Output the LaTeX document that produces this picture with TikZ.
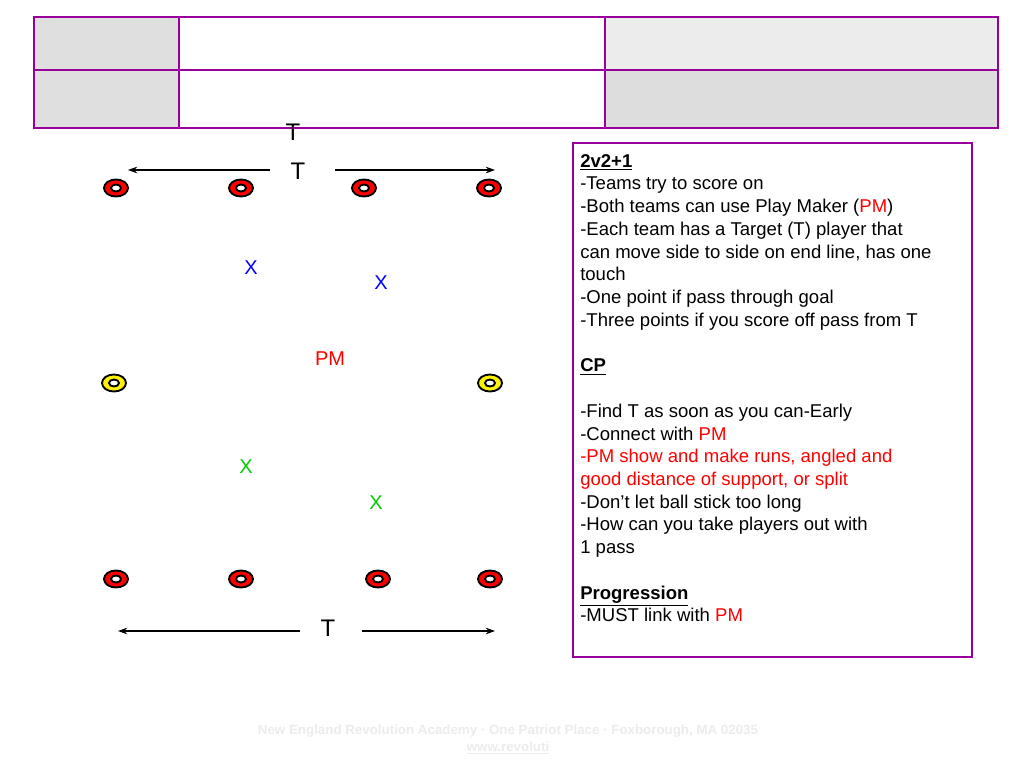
\documentclass[tikz,border=0pt]{standalone}
\usepackage{fontspec}
\setmainfont{Liberation Sans}
\usetikzlibrary{arrows.meta}
\begin{document}
\begin{tikzpicture}[x=0.75pt,y=-0.75pt,
  frame/.style={draw=violet!80!magenta,line width=1.2pt},
  cone/.style={line width=1.4pt,draw=black,fill=#1,even odd rule},
  lbl/.style={inner sep=0pt,font=\fontsize{15}{18}\selectfont},
  arr/.style={-{Stealth[length=7pt,width=5pt]},line width=0.8pt}]
\useasboundingbox (0,0) rectangle (1024,768);
\fill[white] (0,0) rectangle (1024,768);
% table
\fill[gray!25] (34,17) rectangle (179,128);
\fill[gray!15] (605,17) rectangle (998,70);
\fill[gray!27] (605,70) rectangle (998,128);
\draw[frame] (34,17) rectangle (998,128);
\draw[frame] (179,17) -- (179,128) (605,17) -- (605,128) (34,70) -- (998,70);
% text box
\draw[frame] (573,143) rectangle (972,657);
\node[anchor=north west,inner sep=0pt,align=left,font=\fontsize{13.9}{17.05}\selectfont] (txt) at (580,154) {%
\underline{\textbf{2v2+1}}\\
-Teams try to score on\\
-Both teams can use Play Maker (\textcolor{red}{PM})\\
-Each team has a Target (T) player that\\
can move side to side on end line, has one\\
touch\\
-One point if pass through goal\\
-Three points if you score off pass from T\\[17.05pt]
\underline{\textbf{CP}}\\[17.05pt]
-Find T as soon as you can-Early\\
-Connect with \textcolor{red}{PM}\\
\textcolor{red}{-PM show and make runs, angled and}\\
\textcolor{red}{good distance of support, or split}\\
-Don’t let ball stick too long\\
-How can you take players out with\\
1 pass\\[17.05pt]
\underline{\textbf{Progression}}\\
-MUST link with \textcolor{red}{PM}};
% cones
\foreach \x/\y/\c in {116/188/red,241/188/red,364/188/red,489/188/red,116/579/red,241/579/red,378/579/red,490/579/red,114/383/yellow,490/383/yellow}
  \path[cone=\c] (\x,\y) ellipse[x radius=12,y radius=8.5] (\x,\y) ellipse[x radius=5,y radius=3.5];
% T and arrows
\node[lbl,font=\fontsize{18}{20}\selectfont] (t0) at (293,132) {T};
\node[lbl,font=\fontsize{18}{20}\selectfont] (t1) at (298,171) {T};
\node[lbl,font=\fontsize{18}{20}\selectfont] (t2) at (328,628) {T};
\coordinate (a1) at (128,170); \coordinate (a2) at (495,170);
\coordinate (b1) at (118,631); \coordinate (b2) at (495,631);
\draw[arr] (270,170) -- (a1);
\draw[arr] (335,170) -- (a2);
\draw[arr] (300,631) -- (b1);
\draw[arr] (362,631) -- (b2);
% players
\node[lbl,text=blue] (x1) at (251,268) {X};
\node[lbl,text=blue] (x2) at (381,283) {X};
\node[lbl,text=red] (pm) at (330,359) {PM};
\node[lbl,text=green!80!black] (x3) at (246,467) {X};
\node[lbl,text=green!80!black] (x4) at (376,503) {X};
% footer
\node[inner sep=0pt,text=gray!15,font=\bfseries\fontsize{10}{12}\selectfont] (f1) at (508,731) {New England Revolution Academy · One Patriot Place · Foxborough, MA 02035};
\node[inner sep=0pt,text=gray!15,font=\bfseries\fontsize{10}{12}\selectfont] (f2) at (508,748) {\underline{www.revoluti}};
\end{tikzpicture}
\end{document}
